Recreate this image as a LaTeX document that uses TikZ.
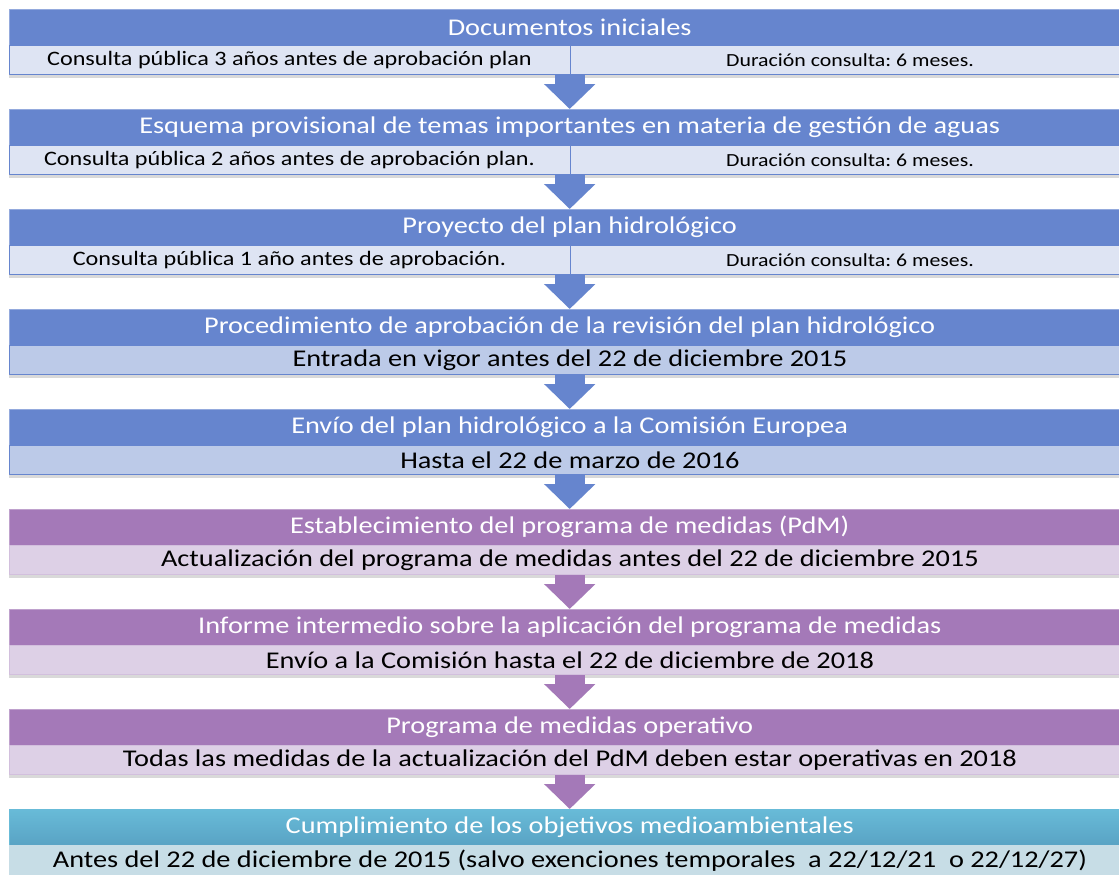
\documentclass[tikz,border=0pt]{standalone}
\usepackage{fontspec}
\setmainfont{Carlito}[FakeStretch=1.18]
\usetikzlibrary{arrows.meta,shadows,positioning}

\definecolor{hblue}{RGB}{102,133,206}
\definecolor{sblue}{RGB}{222,228,243}
\definecolor{sbluedk}{RGB}{188,202,232}
\definecolor{hviolet}{RGB}{164,121,184}
\definecolor{sviolet}{RGB}{221,208,230}
\definecolor{htealtop}{RGB}{104,187,216}
\definecolor{htealbot}{RGB}{89,163,196}
\definecolor{steal}{RGB}{199,221,230}

\begin{document}
\frenchspacing
\begin{tikzpicture}[x=1pt, y=-1pt, line join=round,
    head/.style={anchor=north west, inner sep=0pt, minimum width=1121pt, minimum height=36pt,
      text=white, font=\fontsize{24}{28}\selectfont},
    hblk/.style={head, fill=hblue, draw=hblue!70!white},
    vblk/.style={head, fill=hviolet, draw=hviolet!70!white},
    tblk/.style={head, top color=htealtop, bottom color=htealbot, draw=htealtop},
    sub/.style={anchor=north west, inner sep=0pt, minimum width=1121pt, minimum height=29pt,
      line width=.8pt, draw=#1, drop shadow={shadow xshift=0pt, shadow yshift=-3pt, opacity=.3}},
    big/.style={font=\fontsize{24}{28}\selectfont},
    lft/.style={inner sep=0pt, font=\fontsize{20.5}{24}\selectfont},
    rgt/.style={inner sep=0pt, font=\fontsize{18.5}{22}\selectfont},
    pfeil/.style={line width=30pt, #1, -{Triangle[length=25pt 0 0, width=50pt 0 0]}}]
    \useasboundingbox (0,0) rectangle (1119,875);
    % cabeceras
    \foreach \n/\s/\txt in {1/hblk/Documentos iniciales,
        2/hblk/Esquema provisional de temas importantes en materia de gestión de aguas,
        3/hblk/Proyecto del plan hidrológico,
        4/hblk/Procedimiento de aprobación de la revisión del plan hidrológico,
        5/hblk/Envío del plan hidrológico a la Comisión Europea,
        6/vblk/Establecimiento del programa de medidas (PdM),
        7/vblk/Informe intermedio sobre la aplicación del programa de medidas,
        8/vblk/Programa de medidas operativo,
        9/tblk/Cumplimiento de los objetivos medioambientales}
      \node[style=\s] (h\n) at (9,{9+100*(\n-1)}) {\txt};
    % filas de consulta
    \foreach \n/\txt in {1/Consulta pública 3 años antes de aprobación plan,
        2/Consulta pública 2 años antes de aprobación plan.,
        3/Consulta pública 1 año antes de aprobación.}
    {
      \node[sub=hblue, fill=sblue] (s\n) at (h\n.south west) {};
      \draw[hblue, line width=.8pt] (570,0 |- s\n.north) -- (570,0 |- s\n.south);
      \node[lft] (l\n) at (289.5,0 |- s\n.center) {\txt};
      \node[rgt] (r\n) at (850,0 |- s\n.center) {Duración consulta: 6 meses.};
    }
    \node[sub=hblue, fill=sbluedk, big] (s4) at (h4.south west) {Entrada en vigor antes del 22 de diciembre 2015};
    \node[sub=hblue, fill=sbluedk, big] (s5) at (h5.south west) {Hasta el 22 de marzo de 2016};
    \node[sub=sviolet!80!hviolet, fill=sviolet, big] (s6) at (h6.south west) {Actualización del programa de medidas antes del 22 de diciembre 2015};
    \node[sub=sviolet!80!hviolet, fill=sviolet, big] (s7) at (h7.south west) {Envío a la Comisión hasta el 22 de diciembre de 2018};
    \node[sub=sviolet!80!hviolet, fill=sviolet, big] (s8) at (h8.south west) {Todas las medidas de la actualización del PdM deben estar operativas en 2018};
    \node[sub=steal, fill=steal, big] (s9) at (h9.south west) {Antes del 22 de diciembre de 2015 (salvo exenciones temporales\ \ a 22/12/21\ \ o 22/12/27)};
    % flechas
    \foreach \n/\m/\c in {1/2/hblue, 2/3/hblue, 3/4/hblue, 4/5/hblue, 5/6/hblue,
        6/7/hviolet, 7/8/hviolet, 8/9/hviolet}
      \draw[pfeil=\c] (h\n.center |- s\n.south) -- (h\m.center |- h\m.north);
\end{tikzpicture}
\end{document}
